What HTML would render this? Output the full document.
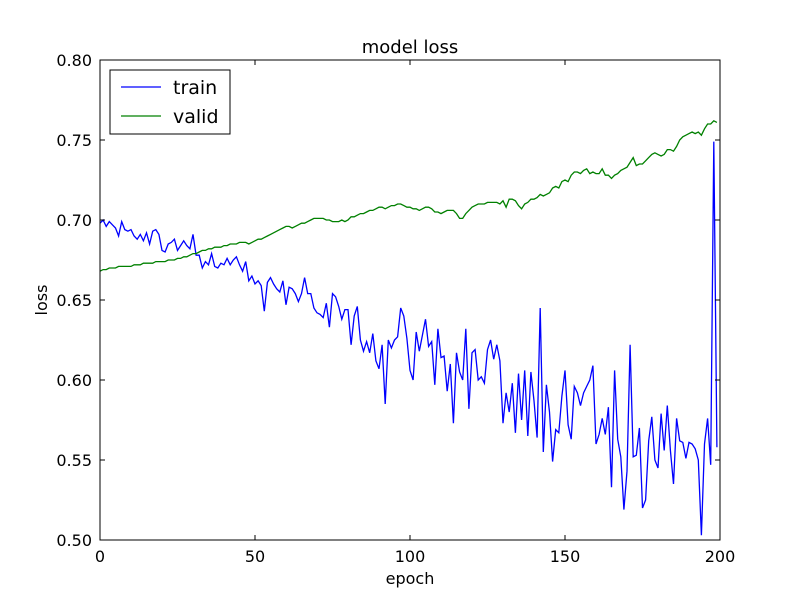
<!DOCTYPE html>
<html><head><meta charset="utf-8"><style>
body{margin:0;background:#fff}
svg text{font-family:"DejaVu Sans","Liberation Sans",sans-serif;fill:#000}
</style></head><body>
<svg id="chart" width="800" height="600" viewBox="0 0 800 600">
<rect width="800" height="600" fill="#fff"/>
<g id="marks"></g>
<g id="axes"></g>
</svg>
<script>
const trainLoss=[.698,.700,.696,.699,.697,.695,.690,.699,.694,.693,
.694,.690,.688,.691,.687,.692,.685,.693,.694,.691,
.681,.680,.685,.686,.688,.681,.684,.687,.684,.682,
.691,.678,.678,.670,.674,.672,.679,.671,.670,.673,
.672,.676,.672,.675,.677,.672,.668,.674,.662,.665,
.660,.662,.659,.643,.661,.664,.660,.657,.655,.662,
.647,.658,.657,.654,.649,.654,.664,.654,.654,.645,
.642,.641,.639,.648,.633,.654,.652,.646,.638,.644,
.644,.622,.640,.646,.625,.618,.624,.617,.629,.612,
.607,.622,.585,.625,.620,.625,.627,.645,.640,.626,
.606,.600,.630,.618,.628,.638,.621,.624,.597,.632,
.614,.615,.593,.610,.573,.617,.605,.600,.632,.582,
.617,.619,.600,.602,.598,.619,.625,.613,.622,.612,
.573,.592,.580,.598,.567,.604,.575,.606,.565,.605,
.587,.564,.645,.555,.597,.580,.549,.569,.567,.590,
.606,.572,.563,.596,.592,.584,.592,.596,.600,.609,
.560,.566,.576,.566,.583,.533,.606,.563,.552,.519,
.543,.622,.552,.553,.570,.520,.525,.562,.577,.550,
.545,.579,.556,.584,.556,.535,.576,.562,.561,.551,
.561,.560,.557,.550,.503,.560,.576,.547,.749,.558];
const validLoss=[.668,.669,.669,.670,.670,.670,.671,.671,.671,.671,
.671,.672,.672,.672,.673,.673,.673,.673,.674,.674,
.674,.674,.675,.675,.675,.676,.676,.677,.677,.678,
.679,.679,.680,.681,.681,.682,.682,.683,.683,.683,
.684,.684,.685,.685,.685,.686,.686,.686,.685,.686,
.687,.688,.688,.689,.690,.691,.692,.693,.694,.695,
.696,.696,.695,.696,.697,.698,.698,.699,.700,.701,
.701,.701,.701,.700,.700,.699,.699,.699,.700,.699,
.700,.702,.702,.703,.704,.704,.705,.706,.706,.707,
.708,.708,.707,.708,.709,.709,.710,.710,.709,.708,
.708,.707,.707,.706,.707,.708,.708,.707,.705,.705,
.704,.705,.706,.706,.706,.704,.701,.701,.704,.706,
.708,.709,.710,.710,.710,.711,.711,.711,.711,.710,
.712,.708,.713,.713,.712,.709,.707,.710,.711,.713,
.713,.714,.716,.715,.716,.717,.720,.721,.720,.724,
.725,.724,.728,.730,.730,.729,.731,.732,.729,.730,
.729,.729,.732,.728,.728,.726,.728,.729,.731,.732,
.733,.736,.739,.734,.735,.735,.737,.739,.741,.742,
.741,.740,.741,.744,.744,.743,.746,.750,.752,.753,
.754,.755,.754,.755,.753,.757,.760,.760,.762,.761];
const xTicks=[0,50,100,150,200];
const yTicks=[0.50,0.55,0.60,0.65,0.70,0.75,0.80];
const yTickLabels=["0.50","0.55","0.60","0.65","0.70","0.75","0.80"];

const L=100,R=720,T=60,B=540;
const xs=e=>L+(e-0)/(200-0)*(R-L);
const ys=v=>B-(v-0.5)/(0.8-0.5)*(B-T);
const NS="http://www.w3.org/2000/svg";
function mk(tag,attrs,parent){const el=document.createElementNS(NS,tag);for(const k in attrs)el.setAttribute(k,attrs[k]);parent.appendChild(el);return el;}
const marks=document.getElementById('marks'),axes=document.getElementById('axes');

let p=mk('polyline',{points:trainLoss.map((v,i)=>xs(i)+','+ys(v)).join(' '),fill:'none',stroke:'#0000ff','stroke-width':1.3},marks);


p=mk('polyline',{points:validLoss.map((v,i)=>xs(i)+','+ys(v)).join(' '),fill:'none',stroke:'#008000','stroke-width':1.3},marks);



let f=mk('rect',{x:L,y:T,width:R-L,height:B-T,fill:'none',stroke:'#000','stroke-width':1},axes);



xTicks.forEach(t=>{const x=xs(t);
 mk('line',{x1:x,y1:B,x2:x,y2:B-5,stroke:'#000'},axes);
 mk('line',{x1:x,y1:T,x2:x,y2:T+5,stroke:'#000'},axes);
 const tx=mk('text',{x:x,y:B+22,'text-anchor':'middle','font-size':16},axes);tx.textContent=t;
 
 
});
yTicks.forEach((t,i)=>{const y=ys(t);
 mk('line',{x1:L,y1:y,x2:L+5,y2:y,stroke:'#000'},axes);
 mk('line',{x1:R,y1:y,x2:R-5,y2:y,stroke:'#000'},axes);
 const tx=mk('text',{x:L-8,y:y+6,'text-anchor':'end','font-size':16},axes);tx.textContent=yTickLabels[i];
 
 
});
let t=mk('text',{x:410,y:53,'text-anchor':'middle','font-size':18},axes);t.textContent='model loss';


t=mk('text',{x:410,y:584,'text-anchor':'middle','font-size':16},axes);t.textContent='epoch';


t=mk('text',{x:47,y:300,'text-anchor':'middle','font-size':16,transform:'rotate(-90 47 300)'},axes);t.textContent='loss';



const lg=mk('g',{},axes);


mk('rect',{x:110,y:70,width:120,height:64,fill:'#fff',stroke:'#000'},lg);
[['train','#0000ff',87],['valid','#008000',116]].forEach(([n,c,y])=>{
 const g=mk('g',{},lg);
 
 
 mk('line',{x1:121,y1:y,x2:161,y2:y,stroke:c,'stroke-width':1.3},g);
 const tx=mk('text',{x:173,y:y+7,'font-size':19},g);tx.textContent=n;
});
</script>
</body></html>
